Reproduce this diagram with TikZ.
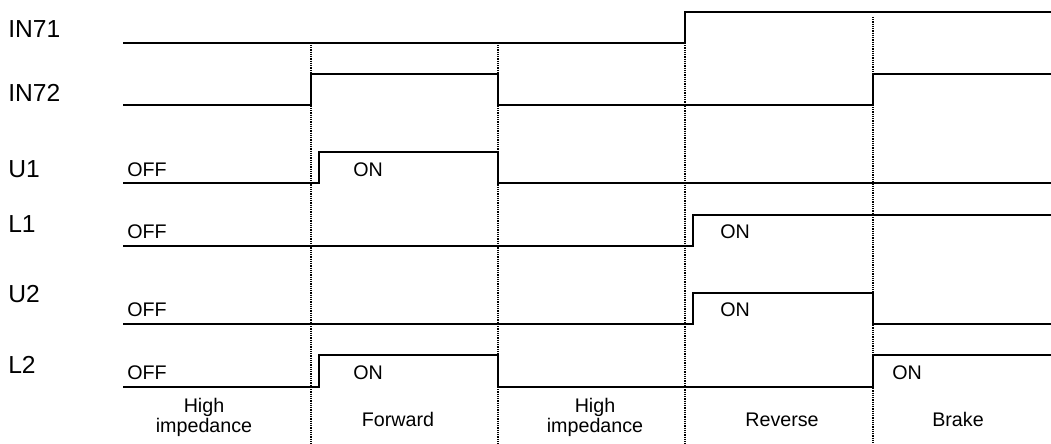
\documentclass[tikz,border=0pt]{standalone}
\usepackage{fontspec}
\setmainfont{Liberation Sans}
\begin{document}
\begin{tikzpicture}[x=0.025cm, y=-0.025cm,
    segnale/.style={line width=1.4pt},
    griglia/.style={line width=0.9pt, dash pattern=on 0.8pt off 0.8pt},
    nome/.style={anchor=base west, inner sep=0pt, font=\fontsize{17.5}{21}\selectfont},
    stato/.style={anchor=base west, inner sep=0pt, font=\fontsize{14}{17}\selectfont},
    fase/.style={inner sep=0pt, align=center, font=\fontsize{14}{14}\selectfont}]

    \useasboundingbox (0,0) rectangle (1051,444);

    % Linee tratteggiate
    \foreach \x/\y in {311/45, 498/45, 685/43, 873/17}
        \draw[griglia] (\x,\y) -- (\x,444);

    % Nomi dei segnali
    \node[nome] (in71) at (8,38) {IN71};
    \node[nome] (in72) at (8,102) {IN72};
    \node[nome] (u1) at (8,178) {U1};
    \node[nome] (l1) at (8,233) {L1};
    \node[nome] (u2) at (8,303) {U2};
    \node[nome] (l2) at (8,374) {L2};

    % Segnali
    \draw[segnale] (123,43) -- (685,43) -- (685,12) -- (1051,12);
    \draw[segnale] (123,105) -- (311,105) -- (311,74) -- (498,74) -- (498,105) -- (873,105) -- (873,74) -- (1051,74);
    \draw[segnale] (123,183) -- (319,183) -- (319,152) -- (498,152) -- (498,183) -- (1051,183);
    \draw[segnale] (123,246) -- (693,246) -- (693,215) -- (1051,215);
    \draw[segnale] (123,324) -- (693,324) -- (693,293) -- (873,293) -- (873,324) -- (1051,324);
    \draw[segnale] (123,387) -- (319,387) -- (319,355) -- (498,355) -- (498,387) -- (873,387) -- (873,355) -- (1051,355);

    % Stati
    \node[stato] (u1off) at (127,177) {OFF};
    \node[stato] (u1on) at (353,177) {ON};
    \node[stato] (l1off) at (127,239) {OFF};
    \node[stato] (l1on) at (720,239) {ON};
    \node[stato] (u2off) at (127,317) {OFF};
    \node[stato] (u2on) at (720,317) {ON};
    \node[stato] (l2off) at (127,380) {OFF};
    \node[stato] (l2on) at (353,380) {ON};
    \node[stato] (l2brake) at (892,380) {ON};

    % Fasi
    \node[fase, anchor=north] (hiz1) at (204,398) {High\\impedance};
    \node[fase, anchor=base] (fwd) at (398,427) {Forward};
    \node[fase, anchor=north] (hiz2) at (595,398) {High\\impedance};
    \node[fase, anchor=base] (rev) at (782,427) {Reverse};
    \node[fase, anchor=base] (brk) at (958,427) {Brake};

\end{tikzpicture}
\end{document}
